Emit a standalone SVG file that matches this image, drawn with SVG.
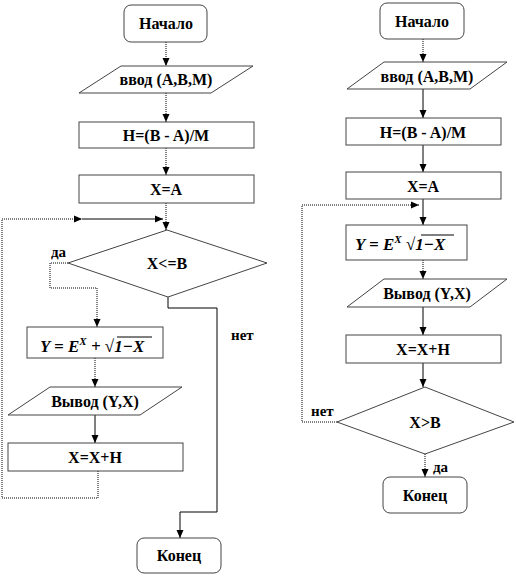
<svg xmlns="http://www.w3.org/2000/svg" width="516" height="576" viewBox="0 0 516 576">
<style>
.s{fill:#fff;stroke:#444;stroke-width:1}
.t{font-family:'Liberation Serif','DejaVu Serif',serif;font-weight:700;font-size:16px;fill:#000;text-anchor:middle}
.l{font-family:'Liberation Serif','DejaVu Serif',serif;font-weight:700;font-size:15px;fill:#000}
.m{font-family:'Liberation Serif','DejaVu Serif',serif;font-weight:700;font-style:italic;font-size:17px;fill:#000}
.n{font-style:normal;font-weight:400}
.c{fill:none;stroke:#000;stroke-width:1}
.d{fill:none;stroke:#000;stroke-width:1;stroke-dasharray:1,1}
</style>
<defs>
<marker id="a" viewBox="0 0 8 8" refX="8" refY="4" markerWidth="8" markerHeight="8" markerUnits="userSpaceOnUse" orient="auto">
<path d="M0,0.5 L8,4 L0,7.5 Z" fill="#000"/>
</marker>
</defs>
<rect width="516" height="576" fill="#fff"/>
<g id="connectors">
<path class="d" d="M166,42 V66" marker-end="url(#a)"/>
<path class="d" d="M166,93 V122" marker-end="url(#a)"/>
<path class="d" d="M166,148 V175" marker-end="url(#a)"/>
<path class="d" d="M166,203 V230" marker-end="url(#a)"/>
<path class="d" d="M98,471 V498 H2 V219 H82" marker-end="url(#a)"/>
<path class="c" d="M82,219 H163" marker-end="url(#a)"/>
<path class="d" d="M68,263 H50 V288 H97 V327" marker-end="url(#a)"/>
<path class="d" d="M95,358 V387" marker-end="url(#a)"/>
<path class="c" d="M95,415 V443" marker-end="url(#a)"/>
<path class="c" d="M168,297 V308 H217 V512 H180 V538" marker-end="url(#a)"/>
<path class="d" d="M423,39 V62" marker-end="url(#a)"/>
<path class="c" d="M423,89 V118" marker-end="url(#a)"/>
<path class="c" d="M423,145 V172" marker-end="url(#a)"/>
<path class="c" d="M423,199 V225" marker-end="url(#a)"/>
<path class="d" d="M337,422 H302 V205 H419" marker-end="url(#a)"/>
<path class="d" d="M423,260 V279" marker-end="url(#a)"/>
<path class="c" d="M423,307 V335" marker-end="url(#a)"/>
<path class="c" d="M423,363 V387" marker-end="url(#a)"/>
<path class="d" d="M425,454 V477" marker-end="url(#a)"/>
</g>
<g id="start1"><rect class="s" x="124" y="5" width="83" height="37" rx="7"/><text class="t" x="166" y="29">Начало</text></g>
<g id="input1"><polygon class="s" points="121,66 253,66 211,93 79,93"/><text class="t" x="166" y="85">ввод (A,B,M)</text></g>
<g id="h1"><rect class="s" x="79" y="122" width="175" height="26"/><text class="t" x="166" y="141">H=(B  - A)/M</text></g>
<g id="x1"><rect class="s" x="79" y="175" width="175" height="28"/><text class="t" x="166" y="195">X=A</text></g>
<g id="cond1"><polygon class="s" points="167,230 267,263 168,297 68,263"/><text class="t" x="167" y="269">X&lt;=B</text></g>
<g id="calc1"><rect class="s" x="27" y="327" width="136" height="31"/>
<text class="m" x="40" y="352">Y = E<tspan dy="-7" style="font-size:11px">X</tspan><tspan dy="7"> + </tspan><tspan class="n">√</tspan>1−X</text><line x1="117" y1="337" x2="152" y2="337" stroke="#000" stroke-width="1"/></g>
<g id="out1"><polygon class="s" points="50,387 182,387 140,415 8,415"/><text class="t" x="95" y="407">Вывод (Y,X)</text></g>
<g id="inc1"><rect class="s" x="8" y="443" width="175" height="28"/><text class="t" x="95" y="463">X=X+H</text></g>
<g id="end1"><rect class="s" x="137" y="538" width="84" height="35" rx="7"/><text class="t" x="179" y="561">Конец</text></g>
<text class="l" x="51" y="257">да</text>
<text class="l" x="231" y="340">нет</text>
<g id="start2"><rect class="s" x="380" y="3" width="84" height="36" rx="7"/><text class="t" x="422" y="27">Начало</text></g>
<g id="input2"><polygon class="s" points="384,62 507,62 470,89 347,89"/><text class="t" x="427" y="82">ввод (A,B,M)</text></g>
<g id="h2"><rect class="s" x="346" y="118" width="155" height="27"/><text class="t" x="423" y="138">H=(B  - A)/M</text></g>
<g id="x2"><rect class="s" x="346" y="172" width="155" height="27"/><text class="t" x="423" y="192">X=A</text></g>
<g id="calc2"><rect class="s" x="346" y="225" width="121" height="35"/>
<text class="m" x="355" y="250">Y = E<tspan dy="-7" style="font-size:11px">X</tspan><tspan dy="7" class="n"> √</tspan>1−X</text><line x1="421" y1="235" x2="454" y2="235" stroke="#000" stroke-width="1"/></g>
<g id="out2"><polygon class="s" points="384,279 507,279 470,307 347,307"/><text class="t" x="427" y="299">Вывод (Y,X)</text></g>
<g id="inc2"><rect class="s" x="346" y="335" width="155" height="28"/><text class="t" x="423" y="355">X=X+H</text></g>
<g id="cond2"><polygon class="s" points="425,387 514,422 425,454 337,422"/><text class="t" x="425" y="428">X&gt;B</text></g>
<g id="end2"><rect class="s" x="383" y="477" width="84" height="36" rx="7"/><text class="t" x="425" y="501">Конец</text></g>
<text class="l" x="311" y="416">нет</text>
<text class="l" x="433" y="472">да</text>
</svg>
